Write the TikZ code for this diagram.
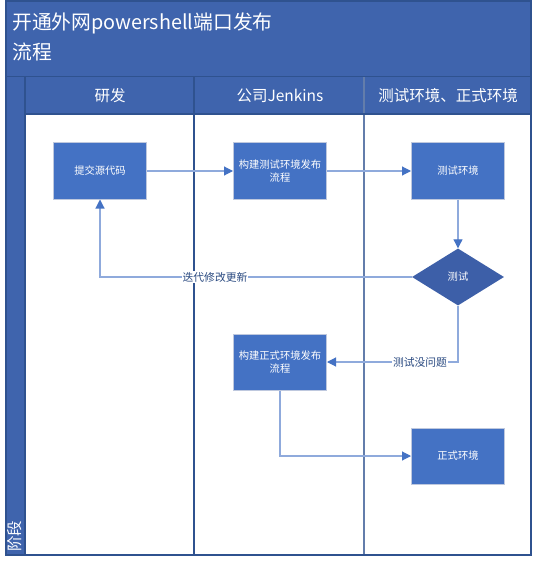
\documentclass[tikz,border=0pt]{standalone}
\usepackage{fontspec}
\setmainfont{Noto Sans CJK SC}
\usetikzlibrary{arrows.meta,shapes.geometric}
\definecolor{band}{RGB}{63,100,173}
\definecolor{bandline}{RGB}{47,82,143}
\definecolor{boxfill}{RGB}{68,114,196}
\definecolor{boxedge}{RGB}{190,200,222}
\definecolor{diafill}{RGB}{61,95,168}
\definecolor{conn}{RGB}{143,170,220}
\definecolor{tip}{RGB}{68,114,196}
\tikzset{
  procbox/.style={draw=boxedge,line width=1pt,fill=boxfill,minimum width=93pt,minimum height=56pt,
    text=white,font=\fontsize{10.3}{13}\selectfont,align=center,inner sep=1pt},
  decide/.style={diamond,fill=diafill,minimum width=92pt,minimum height=57pt,aspect=1.6,inner sep=0pt,
    text=white,font=\fontsize{10.3}{13}\selectfont},
  flow/.style={draw=conn,line width=1.1pt,-{Triangle[length=9pt,width=9pt,color=tip]}},
  flowlabel/.style={fill=white,text=bandline!90!black,font=\fontsize{10.8}{12}\selectfont,inner sep=1pt},
  lanehead/.style={text=white,font=\fontsize{15.5}{17}\selectfont},
  laneline/.style={draw=bandline,line width=1.2pt}
}
\begin{document}
\begin{tikzpicture}[x=1pt,y=-1pt]
\useasboundingbox (0,0) rectangle (535,561);
% title band and header
\fill[band] (6,1) rectangle (531,114);
\fill[band] (6,114) rectangle (25,555);
\draw[bandline,line width=1pt] (6,77) -- (531,77);
\fill[white] (25,114) rectangle (531,555);
% lane lines
\draw[laneline] (25,77) -- (25,555);
\draw[laneline] (194,77) -- (194,555);
\draw[draw=bandline!75!white,line width=1.5pt] (364,77) -- (364,555);
\draw[laneline] (25,114) -- (531,114);
\draw[draw=bandline,line width=1.2pt] (6,1) rectangle (531,555);
% title
\node[anchor=north west,text=white,align=left,font=\fontsize{19.8}{30}\selectfont,inner sep=0pt] (title) at (12,13) {开通外网powershell端口发布\\流程};
% lane headers
\node[lanehead] (h1) at (110,96) {研发};
\node[lanehead] (h2) at (280,96) {公司Jenkins};
\node[lanehead] (h3) at (448,96) {测试环境、正式环境};
\node[text=white,font=\fontsize{15.5}{17}\selectfont,rotate=90,anchor=west,inner sep=0pt] (stage) at (15,552) {阶段};
% nodes
\node[procbox] (src) at (100,171) {提交源代码};
\node[procbox] (bt) at (280,171) {构建测试环境发布\\流程};
\node[procbox] (te) at (458,171) {测试环境};
\node[decide] (test) at (458,277) {测试};
\node[procbox] (bp) at (280,362) {构建正式环境发布\\流程};
\node[procbox] (pe) at (458,456) {正式环境};
% connectors
\draw[flow] (src) -- (bt);
\draw[flow] (bt) -- (te);
\draw[flow] (te) -- (test);
\draw[flow] (test.west) -- (src.south |- test.west) -- (src.south);
\node[flowlabel] (l1) at (215,277) {迭代修改更新};
\draw[flow] (test.south) -- (test.south |- bp.east) -- (bp.east);
\node[flowlabel] (l2) at (420,362) {测试没问题};
\draw[flow] (bp.south) -- (bp.south |- pe.west) -- (pe.west);
\end{tikzpicture}
\end{document}
